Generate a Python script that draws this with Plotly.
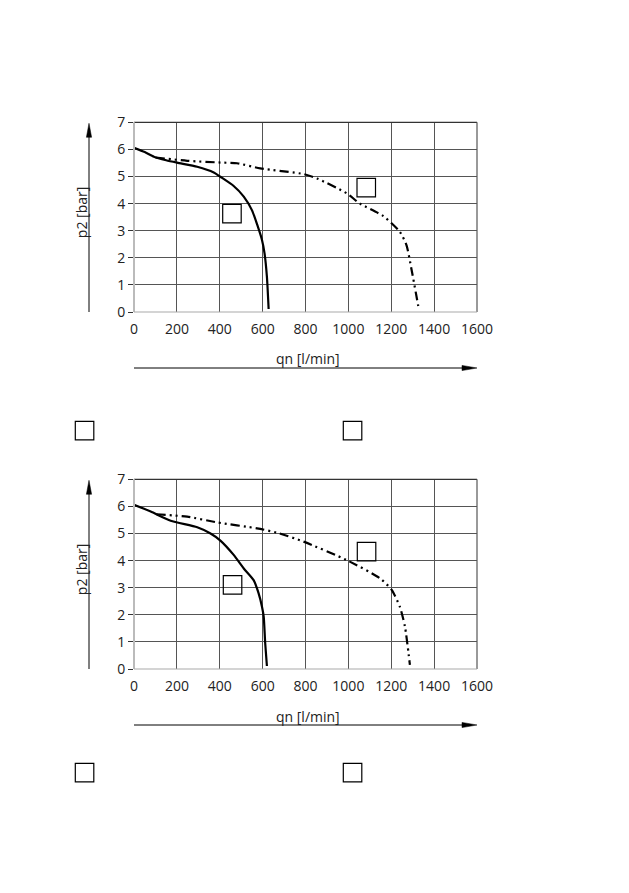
import plotly.graph_objects as go

W, H = 629, 893

# ---- data ----
top_solid_q = [0, 50, 93, 150, 201, 295, 372, 403, 465, 512, 550, 597, 609, 620, 628]
top_solid_p = [6.06, 5.9, 5.73, 5.6, 5.51, 5.36, 5.15, 4.99, 4.65, 4.26, 3.76, 2.66, 2.16, 1.3, 0.11]
top_dash_q = [101, 248, 419, 481, 589, 791, 853, 992, 1054, 1163, 1240, 1271, 1295, 1326]
top_dash_p = [5.7, 5.58, 5.51, 5.49, 5.3, 5.09, 4.93, 4.38, 4.0, 3.54, 2.96, 2.47, 1.55, 0.22]

bot_solid_q = [0, 78, 171, 295, 357, 403, 465, 512, 558, 581, 597, 605, 612, 620]
bot_solid_p = [6.06, 5.81, 5.47, 5.23, 5.0, 4.74, 4.21, 3.71, 3.28, 2.8, 2.3, 1.93, 0.95, 0.11]
bot_dash_q = [105, 248, 388, 574, 667, 791, 992, 1147, 1202, 1240, 1264, 1287]
bot_dash_p = [5.71, 5.62, 5.41, 5.19, 5.03, 4.70, 4.02, 3.35, 2.92, 2.30, 1.56, 0.15]

x_ticks = [0, 200, 400, 600, 800, 1000, 1200, 1400, 1600]
y_ticks = [0, 1, 2, 3, 4, 5, 6, 7]
x_title = "qn [l/min]"
y_title = "p2 [bar]"

FONT = "Open Sans"

fig = go.Figure()

px_x = lambda v: v / W
px_y = lambda v: 1 - v / H

x_dom = [px_x(134), px_x(477)]
panels = [
    dict(dom=[px_y(312), px_y(122.3)], solid=(top_solid_q, top_solid_p),
         dash=(top_dash_q, top_dash_p), top=122.3, bot=312,
         boxes=[(222.7, 204.3), (357, 178.3)], below=[(75.3, 421.3), (343.3, 421.3)]),
    dict(dom=[px_y(669), px_y(479.3)], solid=(bot_solid_q, bot_solid_p),
         dash=(bot_dash_q, bot_dash_p), top=479.3, bot=669,
         boxes=[(223.3, 575.7), (357.3, 542.3)], below=[(75.3, 763.3), (343.3, 763.3)]),
]


def paper_path(points):
    return "M " + " L ".join("%.5f,%.5f" % (px_x(a), px_y(b)) for a, b in points) + " Z"


shapes = []
annotations = []
for i, pnl in enumerate(panels):
    suffix = "" if i == 0 else "2"
    xa, ya = "x" + suffix, "y" + suffix
    fig.add_trace(go.Scatter(x=pnl["solid"][0], y=pnl["solid"][1], mode="lines",
                             line=dict(color="black", width=2.2, shape="spline", smoothing=0.6),
                             xaxis=xa, yaxis=ya, showlegend=False, hoverinfo="skip"))
    fig.add_trace(go.Scatter(x=pnl["dash"][0], y=pnl["dash"][1], mode="lines",
                             line=dict(color="black", width=2.2, shape="spline", smoothing=0.6,
                                       dash="9px,4px,2px,4px,2px,4px"),
                             xaxis=xa, yaxis=ya, showlegend=False, hoverinfo="skip"))
    ax_common = dict(showgrid=True, gridcolor="#555555", gridwidth=1, zeroline=False,
                     automargin=False,
                     tickfont=dict(family=FONT, size=14, color="#222"))
    fig.layout["xaxis" + suffix] = dict(domain=x_dom, range=[0, 1600], tickvals=x_ticks,
                                        anchor=ya, ticks="outside", ticklen=4,
                                        tickcolor="white", **ax_common)
    fig.layout["yaxis" + suffix] = dict(domain=pnl["dom"], range=[0, 7], tickvals=y_ticks,
                                        anchor=xa, ticks="outside", ticklen=5,
                                        tickcolor="#333", **ax_common)
    # frame
    xd, yd = xa + " domain", ya + " domain"
    shapes.append(dict(type="line", xref=xd, yref=yd, x0=0, x1=1, y0=1, y1=1, line=dict(color="#333", width=1.2)))
    shapes.append(dict(type="line", xref=xd, yref=yd, x0=1, x1=1, y0=0, y1=1, line=dict(color="#555", width=1.2)))
    shapes.append(dict(type="line", xref=xd, yref=yd, x0=0, x1=0, y0=0, y1=1, line=dict(color="#bbbbbb", width=2)))
    shapes.append(dict(type="line", xref=xd, yref=yd, x0=0, x1=1, y0=0, y1=0, line=dict(color="#aaaaaa", width=1.2)))
    # boxes
    for (bx, by) in pnl["boxes"] + pnl["below"]:
        shapes.append(dict(type="rect", xref="paper", yref="paper",
                           x0=px_x(bx), x1=px_x(bx + 18.5), y0=px_y(by + 18.5), y1=px_y(by),
                           line=dict(color="black", width=1.2), fillcolor="rgba(0,0,0,0)"))
    # arrows (shapes)
    ay_line = pnl["bot"] + 56
    shapes.append(dict(type="line", xref="paper", yref="paper", x0=px_x(134), x1=px_x(468),
                       y0=px_y(ay_line), y1=px_y(ay_line), line=dict(color="black", width=1)))
    shapes.append(dict(type="path", xref="paper", yref="paper",
                       path=paper_path([(477, ay_line), (462, ay_line - 2.6), (462, ay_line + 2.6)]),
                       fillcolor="black", line=dict(color="black", width=0.5)))
    axx = 89
    shapes.append(dict(type="line", xref="paper", yref="paper", x0=px_x(axx), x1=px_x(axx),
                       y0=px_y(pnl["bot"]), y1=px_y(pnl["top"] + 8), line=dict(color="black", width=1)))
    shapes.append(dict(type="path", xref="paper", yref="paper",
                       path=paper_path([(axx, pnl["top"] + 1), (axx - 2.6, pnl["top"] + 15), (axx + 2.6, pnl["top"] + 15)]),
                       fillcolor="black", line=dict(color="black", width=0.5)))
    # axis titles
    annotations.append(dict(text=x_title, xref="paper", yref="paper", x=px_x(308),
                            y=px_y(pnl["bot"] + 47), showarrow=False,
                            xanchor="center", yanchor="middle",
                            font=dict(family=FONT, size=14, color="#222")))
    annotations.append(dict(text=y_title, xref="paper", yref="paper", x=px_x(81),
                            y=px_y((pnl["top"] + pnl["bot"]) / 2 - 4), showarrow=False, textangle=-90,
                            xanchor="center", yanchor="middle",
                            font=dict(family=FONT, size=14, color="#222")))

fig.update_layout(width=W, height=H, margin=dict(l=0, r=0, t=0, b=0),
                  paper_bgcolor="white", plot_bgcolor="white",
                  shapes=shapes, annotations=annotations)

fig.write_html("out.html")
